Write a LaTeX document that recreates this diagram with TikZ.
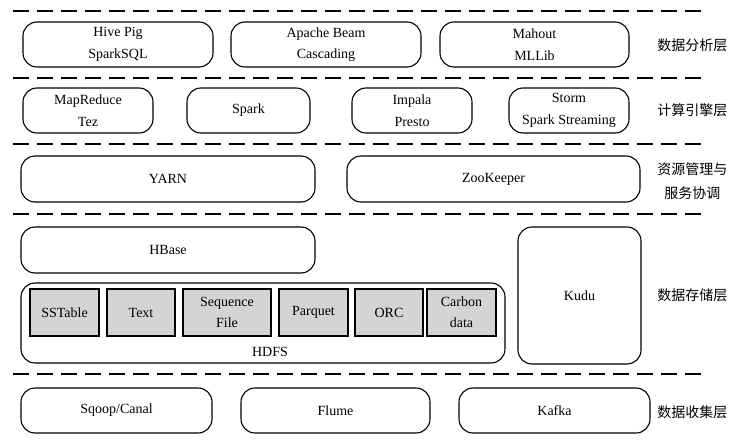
\documentclass[tikz,border=0pt]{standalone}
\usepackage{fontspec}
\setmainfont{Liberation Serif}
\newfontfamily\cjk{Noto Sans CJK SC}
\begin{document}
\begin{tikzpicture}[x=1pt,y=-1pt,
  box/.style={draw, line width=1.1pt, rounded corners=14pt, align=center, inner sep=0pt,
    font=\fontsize{14}{21.5}\selectfont},
  fmt/.style={draw, line width=1.1pt, fill=black!17, align=center, inner sep=0pt,
    minimum height=47pt, font=\fontsize{14}{21}\selectfont},
  layer/.style={anchor=east, align=center, font=\cjk\fontsize{14}{24}\selectfont},
  sep/.style={line width=1.7pt, dash pattern=on 16pt off 8pt}]
\useasboundingbox (0,0) rectangle (744,441);
% separators
\foreach \yy in {11,78,144,214,374} \draw[sep] (13,\yy) -- (703,\yy);
% row 1
\node[box, minimum width=190pt, minimum height=45pt] (hive) at (118,44.5) {Hive Pig\\SparkSQL};
\node[box, minimum width=190pt, minimum height=45pt] (beam) at (326,44.5) {Apache Beam\\Cascading};
\node[box, minimum width=189pt, minimum height=45pt] (mahout) at (534.5,44.5) {Mahout\\MLLib};
\node[layer] (l1) at (731,45) {数据分析层};
% row 2
\node[box, minimum width=130pt, minimum height=45pt] (mr) at (88,110.5) {MapReduce\\Tez};
\node[box, minimum width=123pt, minimum height=45pt] (spark) at (248.5,110.5) {Spark};
\node[box, minimum width=120pt, minimum height=45pt] (impala) at (412,110.5) {Impala\\Presto};
\node[box, minimum width=120pt, minimum height=45pt] (storm) at (569,110.5) {Storm\\Spark Streaming};
\node[layer] (l2) at (731,110) {计算引擎层};
% row 3
\node[box, minimum width=294pt, minimum height=46pt] (yarn) at (168,179) {YARN};
\node[box, minimum width=293pt, minimum height=46pt] (zoo) at (493.5,179) {ZooKeeper};
\node[layer] (l3) at (731,181) {资源管理与\\服务协调};
% row 4
\node[box, minimum width=294pt, minimum height=46pt] (hbase) at (168,250) {HBase};
\node[box, minimum width=484pt, minimum height=80pt] (hdfs) at (263,323) {};
\node[font=\fontsize{14}{21}\selectfont] (hdfst) at (270,352) {HDFS};
\node[fmt, minimum width=69pt] (sst) at (64.5,312.5) {SSTable};
\node[fmt, minimum width=68pt] (txt) at (141,312.5) {Text};
\node[fmt, minimum width=88pt] (seq) at (227,312.5) {Sequence\\File};
\node[fmt, minimum width=69pt] (parq) at (313.5,312.5) {Parquet};
\node[fmt, minimum width=68pt] (orc) at (389,312.5) {ORC};
\node[fmt, minimum width=69pt] (carb) at (461.5,312.5) {Carbon\\data};
\node[box, minimum width=123pt, minimum height=137pt] (kudu) at (579.5,295.5) {Kudu};
\node[layer] (l4) at (731,295) {数据存储层};
% row 5
\node[box, minimum width=191pt, minimum height=45pt] (sqoop) at (116.5,410.5) {Sqoop/Canal};
\node[box, minimum width=189pt, minimum height=45pt] (flume) at (335.5,410.5) {Flume};
\node[box, minimum width=191pt, minimum height=45pt] (kafka) at (554.5,410.5) {Kafka};
\node[layer] (l5) at (731,412) {数据收集层};
\end{tikzpicture}
\end{document}
